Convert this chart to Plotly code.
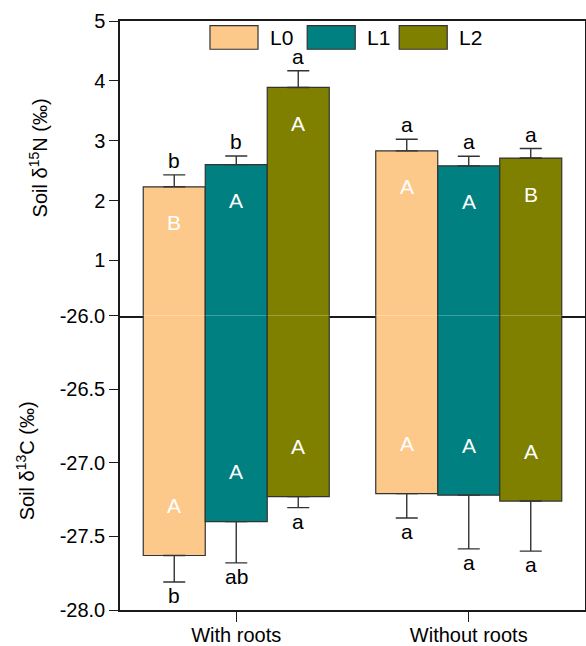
import plotly.graph_objects as go

# ---------------- data ----------------
categories = ["With roots", "Without roots"]
series = ["L0", "L1", "L2"]
colors = ["#FDC98A", "#008080", "#808000"]

# Soil d15N (top panel)
n15_L0 = [2.23, 2.83]
n15_L1 = [2.60, 2.58]
n15_L2 = [3.89, 2.71]
n15_err_L0 = [0.20, 0.195]
n15_err_L1 = [0.145, 0.16]
n15_err_L2 = [0.28, 0.16]

# Soil d13C (bottom panel)
c13_L0 = [-27.63, -27.21]
c13_L1 = [-27.40, -27.22]
c13_L2 = [-27.23, -27.26]
c13_err_L0 = [0.18, 0.165]
c13_err_L1 = [0.28, 0.365]
c13_err_L2 = [0.075, 0.34]

# significance letters
n15_upper_L0 = ["B", "A"]
n15_upper_L1 = ["A", "A"]
n15_upper_L2 = ["A", "B"]
n15_lower_L0 = ["b", "a"]
n15_lower_L1 = ["b", "a"]
n15_lower_L2 = ["a", "a"]
c13_upper_L0 = ["A", "A"]
c13_upper_L1 = ["A", "A"]
c13_upper_L2 = ["A", "A"]
c13_lower_L0 = ["b", "a"]
c13_lower_L1 = ["ab", "a"]
c13_lower_L2 = ["a", "a"]

n15_ticks = [1, 2, 3, 4, 5]
c13_ticks = [-26.0, -26.5, -27.0, -27.5, -28.0]

# ---------------- figure ----------------
FONT = "Liberation Sans, Arial, sans-serif"
x_pos = list(range(len(categories)))
n15 = [n15_L0, n15_L1, n15_L2]
n15_err = [n15_err_L0, n15_err_L1, n15_err_L2]
c13 = [c13_L0, c13_L1, c13_L2]
c13_err = [c13_err_L0, c13_err_L1, c13_err_L2]
n15_up = [n15_upper_L0, n15_upper_L1, n15_upper_L2]
n15_lo = [n15_lower_L0, n15_lower_L1, n15_lower_L2]
c13_up = [c13_upper_L0, c13_upper_L1, c13_upper_L2]
c13_lo = [c13_lower_L0, c13_lower_L1, c13_lower_L2]

bargap = 0.2
bw = (1 - bargap) / len(series)
offsets = [(i - (len(series) - 1) / 2) * bw for i in range(len(series))]

fig = go.Figure()
err_color = "#333333"
for i, s in enumerate(series):
    fig.add_trace(go.Bar(
        x=x_pos, y=n15[i], name=s, xaxis="x", yaxis="y",
        marker=dict(color=colors[i], line=dict(color="#333333", width=1.2)),
        error_y=dict(type="data", symmetric=False, array=n15_err[i],
                     arrayminus=[0] * len(x_pos), color=err_color,
                     thickness=1.4, width=11),
        showlegend=False, hoverinfo="skip",
    ))
    fig.add_trace(go.Bar(
        x=x_pos, y=c13[i], name=s, xaxis="x2", yaxis="y2",
        marker=dict(color=colors[i], line=dict(color="#333333", width=1.2)),
        error_y=dict(type="data", symmetric=False, array=[0] * len(x_pos),
                     arrayminus=c13_err[i], color=err_color,
                     thickness=1.4, width=11),
        showlegend=False, hoverinfo="skip",
    ))

annotations = []
for i in range(len(series)):
    for j in range(len(x_pos)):
        xx = x_pos[j] + offsets[i]
        # top panel
        annotations.append(dict(x=xx, y=n15[i][j], xref="x", yref="y",
                                text=n15_up[i][j], showarrow=False,
                                xanchor="center", yanchor="middle",
                                yshift=-36, font=dict(size=21, color="white", family=FONT)))
        annotations.append(dict(x=xx, y=n15[i][j] + n15_err[i][j], xref="x", yref="y",
                                text=n15_lo[i][j], showarrow=False,
                                xanchor="center", yanchor="bottom",
                                yshift=1, font=dict(size=21, color="black", family=FONT)))
        # bottom panel
        annotations.append(dict(x=xx, y=c13[i][j], xref="x2", yref="y2",
                                text=c13_up[i][j], showarrow=False,
                                xanchor="center", yanchor="middle",
                                yshift=50, font=dict(size=21, color="white", family=FONT)))
        annotations.append(dict(x=xx, y=c13[i][j] - c13_err[i][j], xref="x2", yref="y2",
                                text=c13_lo[i][j], showarrow=False,
                                xanchor="center", yanchor="top",
                                yshift=0, font=dict(size=21, color="black", family=FONT)))

# axis titles
annotations.append(dict(x=-0.176, y=0.767, xref="paper", yref="paper",
                        xanchor="center", yanchor="middle",
                        text="Soil δ<sup>15</sup>N (‰)", textangle=-90, showarrow=False,
                        font=dict(size=20, color="black", family=FONT)))
annotations.append(dict(x=-0.203, y=0.2535, xref="paper", yref="paper",
                        xanchor="center", yanchor="middle",
                        text="Soil δ<sup>13</sup>C (‰)", textangle=-90, showarrow=False,
                        font=dict(size=20, color="black", family=FONT)))

# custom legend
shapes = []
leg_x0 = [0.1935, 0.4026, 0.6004]
box_w = 0.1033
for i, s in enumerate(series):
    shapes.append(dict(type="rect", xref="paper", yref="paper",
                       x0=leg_x0[i], x1=leg_x0[i] + box_w, y0=0.952, y1=0.992,
                       fillcolor=colors[i], line=dict(color="#333333", width=1.2)))
    annotations.append(dict(x=leg_x0[i] + box_w + 0.022, y=0.9725, xref="paper", yref="paper",
                            text=s, showarrow=False, xanchor="left", yanchor="middle",
                            font=dict(size=21, color="black", family=FONT)))

axis_common = dict(showline=True, linecolor="#1a1a1a",
                   ticks="outside", tickcolor="#1a1a1a", tickwidth=1.3, showgrid=False,
                   zeroline=False, automargin=False,
                   tickfont=dict(size=20, color="black", family=FONT))

fig.update_layout(
    width=586, height=646,
    margin=dict(l=120, r=1, t=21, b=36),
    plot_bgcolor="white", paper_bgcolor="white",
    barmode="group", bargap=bargap, bargroupgap=0,
    xaxis=dict(domain=[0, 1], anchor="y", range=[-0.5, 1.5], tickvals=x_pos,
               showticklabels=False, ticklen=9, mirror=True, linewidth=2,
               **axis_common),
    yaxis=dict(domain=[0.5, 1], anchor="x", range=[0.08, 5], tickvals=n15_ticks,
               ticktext=[str(v) for v in n15_ticks], ticklen=9, mirror=True,
               linewidth=1.5, **axis_common),
    xaxis2=dict(domain=[0, 1], anchor="y2", range=[-0.5, 1.5], tickvals=x_pos,
                ticktext=categories, ticklen=10, ticklabelstandoff=-4, mirror=False,
                linewidth=1.5, **axis_common),
    yaxis2=dict(domain=[0, 0.5], anchor="x2", range=[-28, -26], tickvals=c13_ticks,
                ticktext=[f"{v:.1f}" for v in c13_ticks], ticklen=9, mirror=True,
                linewidth=1.5, **axis_common),
    annotations=annotations, shapes=shapes,
    showlegend=False,
)

fig.write_html("out.html", config={"displayModeBar": False},
               post_script="document.body.style.margin='0';document.body.style.overflow='hidden';")
